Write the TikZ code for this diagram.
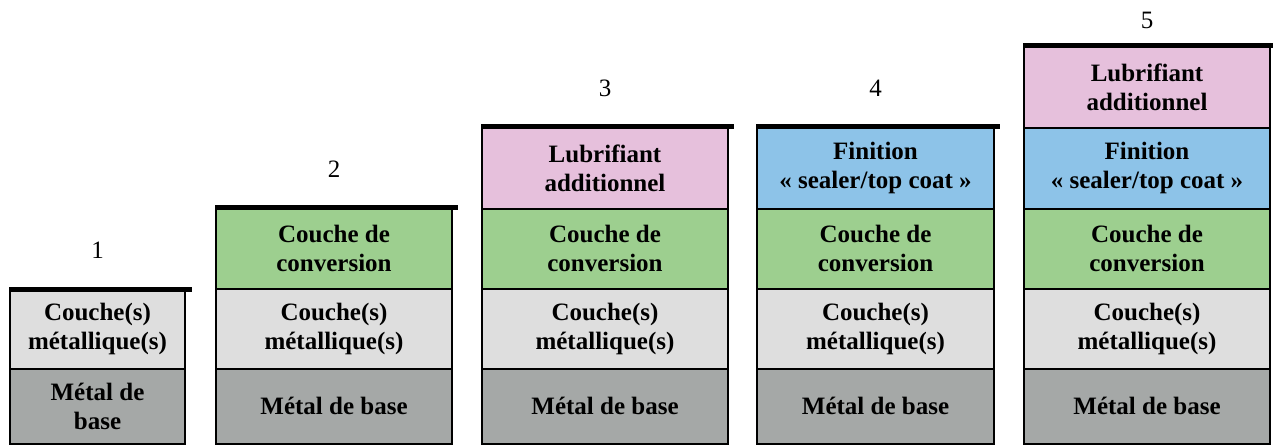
\documentclass[tikz,border=0pt]{standalone}
\usepackage{fontspec}
\setmainfont{Liberation Serif}
\definecolor{basegray}{RGB}{165,168,167}
\definecolor{metgray}{RGB}{222,222,222}
\definecolor{convgreen}{RGB}{157,207,143}
\definecolor{lubpink}{RGB}{230,192,220}
\definecolor{finblue}{RGB}{141,195,232}
\begin{document}
\begin{tikzpicture}[x=1pt,y=-1pt,
  lay/.style={draw=black, line width=2pt, inner sep=0pt, align=center,
    font=\fontsize{25}{29}\selectfont\bfseries},
  basel/.style={lay, fill=basegray},
  metl/.style={lay, fill=metgray},
  convl/.style={lay, fill=convgreen},
  lubl/.style={lay, fill=lubpink},
  finl/.style={lay, fill=finblue},
  topline/.style={line width=5pt},
  num/.style={font=\fontsize{25}{28}\selectfont}]
\useasboundingbox (0,0) rectangle (1273,445);
% Column 1
\node[basel, minimum width=175pt, minimum height=75pt] (b1) at (97.5,406) {Métal de\\base};
\node[metl, minimum width=175pt, minimum height=78.5pt] (m1) at (97.5,329.25) {Couche(s)\\métallique(s)};
\draw[topline] (m1.north west) -- ([xshift=6pt]m1.north east);
\node[num] (n1) at (97.5,250) {1};
% Column 2
\node[basel, minimum width=236pt, minimum height=75pt] (b2) at (334,406) {Métal de base};
\node[metl, minimum width=236pt, minimum height=80pt] (m2) at (334,328.5) {Couche(s)\\métallique(s)};
\node[convl, minimum width=236pt, minimum height=80pt] (c2) at (334,248.5) {Couche de\\conversion};
\draw[topline] (c2.north west) -- ([xshift=5pt]c2.north east);
\node[num] (n2) at (334,169) {2};
% Column 3
\node[basel, minimum width=246pt, minimum height=75pt] (b3) at (605,406) {Métal de base};
\node[metl, minimum width=246pt, minimum height=80pt] (m3) at (605,328.5) {Couche(s)\\métallique(s)};
\node[convl, minimum width=246pt, minimum height=80pt] (c3) at (605,248.5) {Couche de\\conversion};
\node[lubl, minimum width=246pt, minimum height=81pt] (l3) at (605,168) {Lubrifiant\\additionnel};
\draw[topline] (l3.north west) -- ([xshift=5pt]l3.north east);
\node[num] (n3) at (605,88) {3};
% Column 4
\node[basel, minimum width=237pt, minimum height=75pt] (b4) at (875.5,406) {Métal de base};
\node[metl, minimum width=237pt, minimum height=80pt] (m4) at (875.5,328.5) {Couche(s)\\métallique(s)};
\node[convl, minimum width=237pt, minimum height=80pt] (c4) at (875.5,248.5) {Couche de\\conversion};
\node[finl, minimum width=237pt, minimum height=81pt] (f4) at (875.5,168) {Finition\\« sealer/top coat »};
\draw[topline] (f4.north west) -- ([xshift=5pt]f4.north east);
\node[num] (n4) at (875.5,88) {4};
% Column 5
\node[basel, minimum width=246pt, minimum height=75pt] (b5) at (1147,406) {Métal de base};
\node[metl, minimum width=246pt, minimum height=80pt] (m5) at (1147,328.5) {Couche(s)\\métallique(s)};
\node[convl, minimum width=246pt, minimum height=80pt] (c5) at (1147,248.5) {Couche de\\conversion};
\node[finl, minimum width=246pt, minimum height=81pt] (f5) at (1147,168) {Finition\\« sealer/top coat »};
\node[lubl, minimum width=246pt, minimum height=81pt] (l5) at (1147,87) {Lubrifiant\\additionnel};
\draw[topline] (l5.north west) -- ([xshift=4pt]l5.north east);
\node[num] (n5) at (1147,20) {5};
\end{tikzpicture}
\end{document}
